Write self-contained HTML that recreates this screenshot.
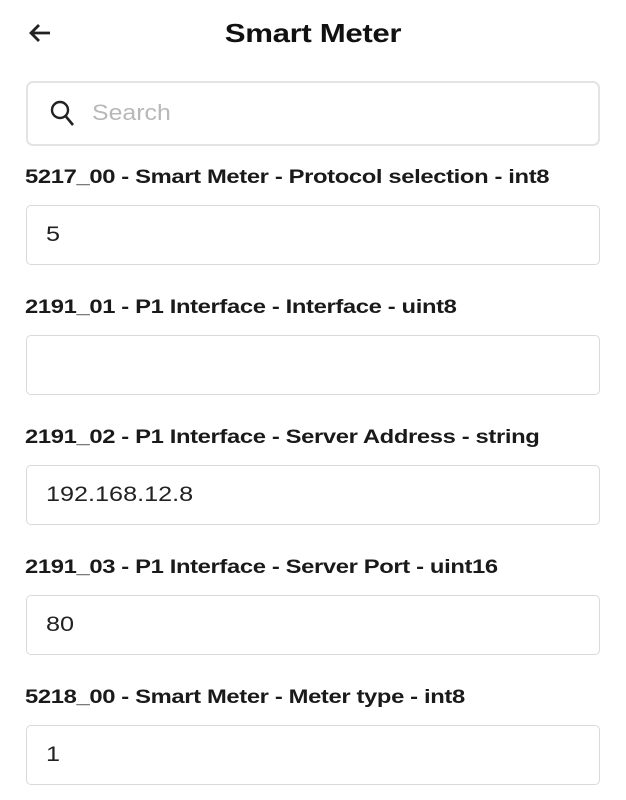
<!DOCTYPE html>
<html><head><meta charset="utf-8"><style>
body{margin:0;width:626px;height:800px;background:#fff;font-family:"Liberation Sans",sans-serif;color:#111;position:relative;overflow:hidden}
.t{position:absolute;left:0;width:626px;top:16px;text-align:center;font-weight:bold;font-size:26px;line-height:34px;letter-spacing:-0.3px;transform:scaleX(1.2)}
.s{position:absolute;left:26px;top:81px;width:570px;height:61px;border:2px solid #e4e4e4;border-radius:7px}
.s span{position:absolute;left:64px;top:17px;font-size:22px;color:#b8b8b8;transform:scaleX(1.13);transform-origin:left}
.l{position:absolute;left:25px;font-weight:bold;font-size:19.5px;line-height:24px;letter-spacing:-0.3px;color:#1a1a1a;transform:scaleX(1.22);transform-origin:left;white-space:nowrap}
.f{position:absolute;left:26px;width:572px;height:58px;border:1.5px solid #dadada;border-radius:5px;font-size:21px;line-height:58px;color:#222}
.f span{position:absolute;left:19px;transform:scaleX(1.2);transform-origin:left}
</style></head><body>
<svg style="position:absolute;left:27px;top:22px" width="26" height="22" viewBox="0 0 26 22"><path d="M23 11H4M12 3L4 11L12 19" fill="none" stroke="#222" stroke-width="2.8"/></svg>
<div class="t">Smart Meter</div>
<div class="s"><svg style="position:absolute;left:22px;top:17px" width="26" height="28" viewBox="0 0 26 28"><circle cx="10" cy="10" r="8" fill="none" stroke="#222" stroke-width="2.4"/><path d="M15.5 16L23 25" stroke="#222" stroke-width="2.6"/></svg><span>Search</span></div>
<div class="l" style="top:165px">5217_00 - Smart Meter - Protocol selection - int8</div>
<div class="f" style="top:205px"><span>5</span></div>
<div class="l" style="top:295px">2191_01 - P1 Interface - Interface - uint8</div>
<div class="f" style="top:335px"></div>
<div class="l" style="top:425px">2191_02 - P1 Interface - Server Address - string</div>
<div class="f" style="top:465px"><span>192.168.12.8</span></div>
<div class="l" style="top:555px">2191_03 - P1 Interface - Server Port - uint16</div>
<div class="f" style="top:595px"><span>80</span></div>
<div class="l" style="top:685px">5218_00 - Smart Meter - Meter type - int8</div>
<div class="f" style="top:725px"><span>1</span></div>
</body></html>
